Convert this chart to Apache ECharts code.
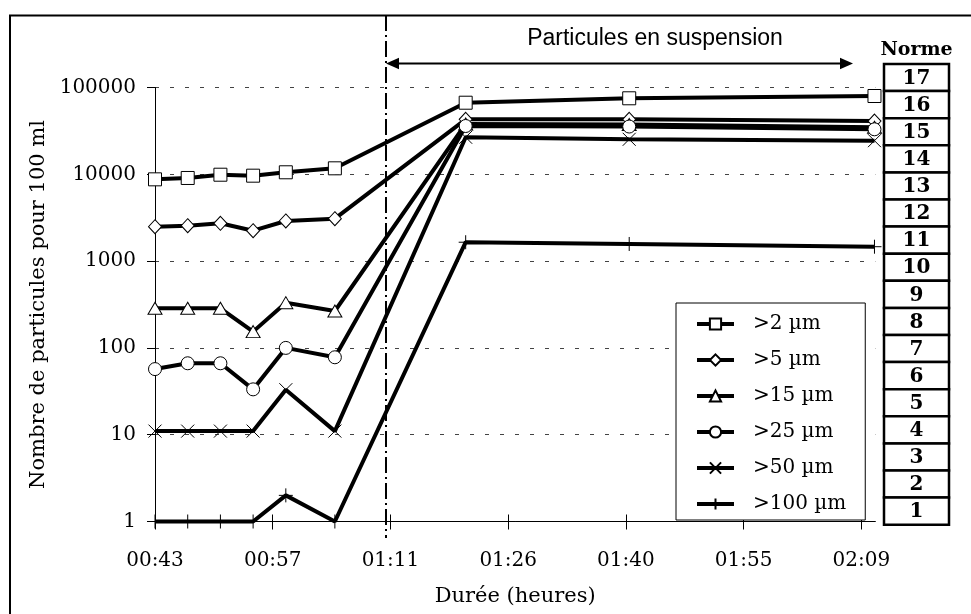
<!DOCTYPE html>
<html><head><meta charset="utf-8">
<script src="https://cdn.jsdelivr.net/npm/echarts@6/dist/echarts.min.js"></script>
<style>html,body{margin:0;padding:0;background:#fff}#c{width:971px;height:614px}</style>
</head><body><div id="c"></div>
<script>
// Time of each measurement, in minutes
const timesMin = [43.2, 47.2, 51.2, 55.2, 59.2, 65.2, 81.2, 101.2, 131.2];
// X axis tick positions (minutes) and their labels
const xTickValues = [43.2, 57.6, 72, 86.4, 100.8, 115.2, 129.6];
const xTickLabels = ['00:43', '00:57', '01:11', '01:26', '01:40', '01:55', '02:09'];
// Series (particles per 100 ml)
const seriesNames = ['>2 µm', '>5 µm', '>15 µm', '>25 µm', '>50 µm', '>100 µm'];
const gt2 = [8750, 9070, 9890, 9640, 10550, 11720, 66800, 75100, 79800];
const gt5 = [2490, 2560, 2725, 2240, 2900, 3080, 43000, 43000, 41100];
const gt15 = [286, 286, 286, 154, 332, 266, 38000, 37500, 34800];
const gt25 = [57, 66.5, 66.5, 33.3, 100, 78, 36000, 35500, 33000];
const gt50 = [11, 11, 11, 11, 33, 11, 26700, 25300, 24400];
const gt100 = [1, 1, 1, 1, 2, 1, 1650, 1575, 1465];
// Norme classes
const normeClasses = [17, 16, 15, 14, 13, 12, 11, 10, 9, 8, 7, 6, 5, 4, 3, 2, 1];

const serif = 'DejaVu Serif';
const seriesValues = [gt2, gt5, gt15, gt25, gt50, gt100];
const symbols = [
  {symbol: 'rect', size: 13, fill: '#fff'},
  {symbol: 'diamond', size: [13, 14], fill: '#fff'},
  {symbol: 'triangle', size: [14, 12], fill: '#fff'},
  {symbol: 'circle', size: 13, fill: '#fff'},
  {symbol: 'path://M0,0L10,10M0,10L10,0', size: 13, fill: 'none'},
  {symbol: 'path://M5,0L5,10M0,5L10,5', size: 14, fill: 'none'}
];

const series = seriesNames.map((name, i) => ({
  name: name,
  type: 'line',
  clip: false,
  data: timesMin.map((t, j) => [t, seriesValues[i][j]]),
  symbol: symbols[i].symbol,
  symbolSize: symbols[i].size,
  showAllSymbol: true,
  lineStyle: {color: '#000', width: 4},
  itemStyle: {color: symbols[i].fill, borderColor: '#000', borderWidth: 1},
  emphasis: {disabled: true}
}));

// Norme column graphic
const normeTop = 64, normeRowH = 27.1, normeX = 884, normeW = 65;
const normeGraphics = [];
normeClasses.forEach((c, k) => {
  normeGraphics.push({
    type: 'rect',
    shape: {x: normeX, y: normeTop + k * normeRowH, width: normeW, height: normeRowH},
    style: {fill: '#fff', stroke: '#000', lineWidth: 2.5}
  });
  normeGraphics.push({
    type: 'text',
    x: normeX + normeW / 2, y: normeTop + k * normeRowH + normeRowH / 2 + 1,
    style: {text: String(c), font: 'bold 20px "DejaVu Serif"', fill: '#000', align: 'center', verticalAlign: 'middle'}
  });
});
normeGraphics.push({
  type: 'text', x: normeX + normeW / 2, y: 50,
  style: {text: 'Norme', font: 'bold 19px "DejaVu Serif"', fill: '#000', align: 'center', verticalAlign: 'middle'}
});

const chart = echarts.init(document.getElementById('c'));
const xLabelFmt = v => {
  const idx = Math.round((v - xTickValues[0]) / (xTickValues[1] - xTickValues[0]));
  return xTickLabels[idx] !== undefined ? xTickLabels[idx] : '';
};
chart.setOption({
  animation: false,
  backgroundColor: '#fff',
  grid: {left: 155, right: 95.7, top: 87.5, bottom: 92.5},
  xAxis: [{
    type: 'value', min: 43.2, max: 131.3, interval: 14.4,
    name: 'Durée (heures)', nameLocation: 'middle', nameGap: 65,
    nameTextStyle: {fontFamily: serif, fontSize: 21, color: '#000'},
    axisLine: {lineStyle: {color: '#000', width: 1}},
    axisTick: {show: true, inside: false, length: 8, lineStyle: {color: '#000'}, customValues: xTickValues},
    axisLabel: {fontFamily: serif, fontSize: 20, color: '#000', margin: 29, customValues: xTickValues, formatter: xLabelFmt},
    splitLine: {show: false}
  }, {
    type: 'value', min: 43.2, max: 131.3, interval: 14.4, position: 'top', offset: -434,
    axisLine: {show: false},
    axisTick: {show: true, inside: false, length: 7, lineStyle: {color: '#000'}, customValues: xTickValues},
    axisLabel: {show: false},
    splitLine: {show: false}
  }],
  yAxis: {
    type: 'log', logBase: 10, min: 1, max: 100000,
    name: 'Nombre de particules pour 100 ml', nameLocation: 'middle', nameGap: 105, nameRotate: 90,
    nameTextStyle: {fontFamily: serif, fontSize: 21, color: '#000'},
    axisLine: {show: true, lineStyle: {color: '#000', width: 1}},
    axisTick: {show: true, inside: false, length: 8, lineStyle: {color: '#000'}},
    axisLabel: {fontFamily: serif, fontSize: 20, color: '#000', margin: 19, formatter: v => String(Math.round(v))},
    splitLine: {show: true, lineStyle: {color: '#444', width: 1, type: [4, 11]}}
  },
  legend: {
    orient: 'vertical', left: 676, top: 303,
    data: seriesNames,
    itemWidth: 37, itemHeight: 14, itemGap: 16,
    padding: [11, 19, 6, 19],
    backgroundColor: '#fff', borderColor: '#000', borderWidth: 1, borderRadius: 0,
    lineStyle: {width: 4},
    textStyle: {fontFamily: serif, fontSize: 20, color: '#000', lineHeight: 20, padding: [0, 0, 0, 14]},
    selectedMode: false
  },
  graphic: [
    {type: 'rect', shape: {x: 10, y: 15.5, width: 1000, height: 700}, style: {fill: 'none', stroke: '#000', lineWidth: 2}, silent: true},
    {type: 'line', shape: {x1: 386, y1: 15, x2: 386, y2: 538}, style: {stroke: '#000', lineWidth: 2, lineDash: [16, 4, 2, 4]}},
    {type: 'line', shape: {x1: 395, y1: 63.5, x2: 845, y2: 63.5}, style: {stroke: '#000', lineWidth: 2}},
    {type: 'polygon', shape: {points: [[386, 63.5], [399, 57.8], [399, 69.2]]}, style: {fill: '#000'}},
    {type: 'polygon', shape: {points: [[853, 63.5], [840, 57.8], [840, 69.2]]}, style: {fill: '#000'}},
    {type: 'text', x: 655, y: 38.5, style: {text: 'Particules en suspension', font: '23px "Liberation Sans"', fill: '#000', align: 'center', verticalAlign: 'middle'}}
  ].concat(normeGraphics),
  series: series
});
</script>
</body></html>
